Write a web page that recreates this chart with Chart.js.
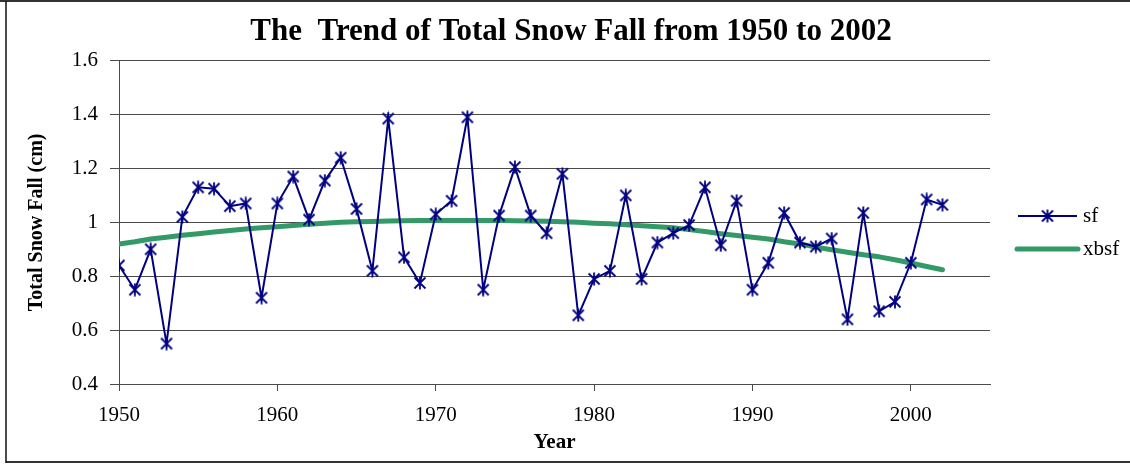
<!DOCTYPE html>
<html><head><meta charset="utf-8">
<script src="https://cdn.jsdelivr.net/npm/chart.js@4.4.1/dist/chart.umd.min.js"></script>
<style>html,body{margin:0;padding:0;background:#fff;}#wrap{width:1130px;height:465px;position:relative;}canvas{display:block;}</style>
</head><body><div id="wrap"><canvas id="c" width="1130" height="465"></canvas></div>
<script>
const titleText = "The  Trend of Total Snow Fall from 1950 to 2002";
const xTitle = "Year";
const yTitle = "Total Snow Fall (cm)";
const years = [1950,1951,1952,1953,1954,1955,1956,1957,1958,1959,
               1960,1961,1962,1963,1964,1965,1966,1967,1968,1969,
               1970,1971,1972,1973,1974,1975,1976,1977,1978,1979,
               1980,1981,1982,1983,1984,1985,1986,1987,1988,1989,
               1990,1991,1992,1993,1994,1995,1996,1997,1998,1999,
               2000,2001,2002];
const sf = [0.84,0.75,0.90,0.55,1.02,1.13,1.125,1.06,1.07,0.72,
            1.07,1.17,1.01,1.155,1.24,1.05,0.82,1.385,0.87,0.775,
            1.03,1.08,1.39,0.75,1.025,1.205,1.025,0.96,1.18,0.655,
            0.79,0.82,1.10,0.79,0.925,0.96,0.99,1.13,0.915,1.08,
            0.75,0.85,1.035,0.925,0.91,0.94,0.64,1.035,0.67,0.705,
            0.85,1.085,1.065];
const xbsf = [0.920,0.928,0.938,0.945,0.952,0.958,0.964,0.970,0.975,0.980,
              0.984,0.988,0.993,0.997,1.000,1.002,1.003,1.005,1.006,1.007,
              1.007,1.007,1.007,1.007,1.007,1.006,1.005,1.004,1.002,1.000,
              0.997,0.995,0.991,0.987,0.984,0.980,0.973,0.966,0.958,0.951,
              0.945,0.938,0.928,0.920,0.908,0.898,0.889,0.880,0.872,0.861,
              0.849,0.836,0.824];
const seriesNames = ["sf","xbsf"];
const xMin = 1950, xMax = 2005, xStep = 10;
const yMin = 0.4, yMax = 1.6, yStep = 0.2;

const NAVY = '#000080', GREEN = '#339966', GRID = '#4a4a4a';
const FONT = "'Liberation Serif', 'Times New Roman', serif";

function makeStar(){
  const c = document.createElement('canvas');
  c.width = 14; c.height = 14;
  const g = c.getContext('2d');
  g.strokeStyle = NAVY; g.lineWidth = 1.8; g.lineCap = 'butt';
  g.beginPath();
  g.moveTo(1.5,1.5); g.lineTo(12.5,12.5);
  g.moveTo(12.5,1.5); g.lineTo(1.5,12.5);
  g.moveTo(7,0.5); g.lineTo(7,13.5);
  g.stroke();
  return c;
}
const star = makeStar();

const frame = {
  id: 'frame',
  beforeDraw(chart){
    const ctx = chart.ctx;
    ctx.save();
    ctx.fillStyle = '#fff';
    ctx.fillRect(0,0,chart.width,chart.height);
    ctx.strokeStyle = '#333';
    ctx.lineWidth = 2;
    ctx.beginPath();
    ctx.moveTo(0,1); ctx.lineTo(1130,1);
    ctx.moveTo(6,462); ctx.lineTo(1130,462);
    ctx.stroke();
    ctx.strokeStyle = '#111';
    ctx.lineWidth = 1.5;
    ctx.beginPath();
    ctx.moveTo(6,1); ctx.lineTo(6,463);
    ctx.stroke();
    ctx.restore();
  }
};

const legendPlugin = {
  id: 'customLegend',
  afterDraw(chart){
    const ctx = chart.ctx;
    const rows = [{y:216, x1:1018, x2:1077}, {y:249, x1:1017, x2:1078}];
    ctx.save();
    chart.data.datasets.forEach((ds, i) => {
      const r = rows[i];
      ctx.strokeStyle = ds.borderColor;
      ctx.lineWidth = ds.borderWidth;
      ctx.lineCap = ds.borderCapStyle || 'butt';
      ctx.beginPath();
      ctx.moveTo(r.x1, r.y); ctx.lineTo(r.x2, r.y);
      ctx.stroke();
      if (ds.pointRadius > 0 && ds.pointStyle) {
        const ps = ds.pointStyle;
        ctx.drawImage(ps, (r.x1 + r.x2)/2 - ps.width/2, r.y - ps.height/2);
      }
      ctx.fillStyle = '#000';
      ctx.font = "21px " + FONT;
      ctx.textBaseline = 'middle';
      ctx.textAlign = 'left';
      ctx.fillText(ds.label, 1083, r.y);
    });
    ctx.restore();
  }
};

new Chart(document.getElementById('c'), {
  type: 'line',
  data: {
    datasets: [
      {
        label: seriesNames[0],
        data: years.map((y,i) => ({x: y, y: sf[i]})),
        borderColor: NAVY,
        backgroundColor: NAVY,
        borderWidth: 2,
        pointStyle: star,
        pointRadius: 6,
        pointHoverRadius: 6,
        tension: 0,
        fill: false
      },
      {
        label: seriesNames[1],
        data: years.map((y,i) => ({x: y, y: xbsf[i]})),
        borderColor: GREEN,
        backgroundColor: GREEN,
        borderWidth: 5,
        borderCapStyle: 'round',
        borderJoinStyle: 'round',
        pointRadius: 0,
        tension: 0,
        fill: false
      }
    ]
  },
  options: {
    responsive: false,
    animation: false,
    devicePixelRatio: 1,
    layout: { padding: { left: 12, right: 0, top: 0, bottom: 0 } },
    plugins: {
      legend: { display: false },
      tooltip: { enabled: false },
      title: {
        display: true,
        text: titleText,
        color: '#000',
        font: { family: FONT, size: 31, weight: 'bold' },
        padding: { top: 13, bottom: 10.5 }
      }
    },
    scales: {
      x: {
        type: 'linear',
        min: xMin, max: xMax,
        afterFit(s){ s.height = 81; },
        ticks: {
          stepSize: xStep,
          includeBounds: false,
          color: '#000',
          font: { family: FONT, size: 21 },
          padding: 12,
          maxRotation: 0,
          callback: v => String(v)
        },
        grid: { display: true, drawOnChartArea: false, drawTicks: true, tickLength: 7, color: GRID, lineWidth: 1 },
        border: { display: true, color: GRID, width: 1 },
        title: {
          display: true, text: xTitle, color: '#000',
          font: { family: FONT, size: 21, weight: 'bold' },
          padding: { top: 0, bottom: 10 }
        }
      },
      y: {
        type: 'linear',
        position: 'left',
        min: yMin, max: yMax,
        afterFit(s){ s.width = 107; },
        ticks: {
          stepSize: yStep,
          color: '#000',
          font: { family: FONT, size: 21 },
          padding: 12,
          callback: v => String(+Number(v).toFixed(1))
        },
        grid: { display: true, drawOnChartArea: true, drawTicks: true, tickLength: 9, color: GRID, lineWidth: 1 },
        border: { display: true, color: GRID, width: 1 },
        title: {
          display: true, text: yTitle, color: '#000',
          font: { family: FONT, size: 20, weight: 'bold' },
          padding: { top: 13, bottom: 0 }
        }
      },
      legendSpace: {
        type: 'linear',
        position: 'right',
        min: yMin, max: yMax,
        afterFit(s){ s.width = 140; },
        ticks: { display: false },
        grid: { display: false },
        border: { display: false },
        title: { display: false }
      }
    }
  },
  plugins: [frame, legendPlugin]
});
</script>
</body></html>
